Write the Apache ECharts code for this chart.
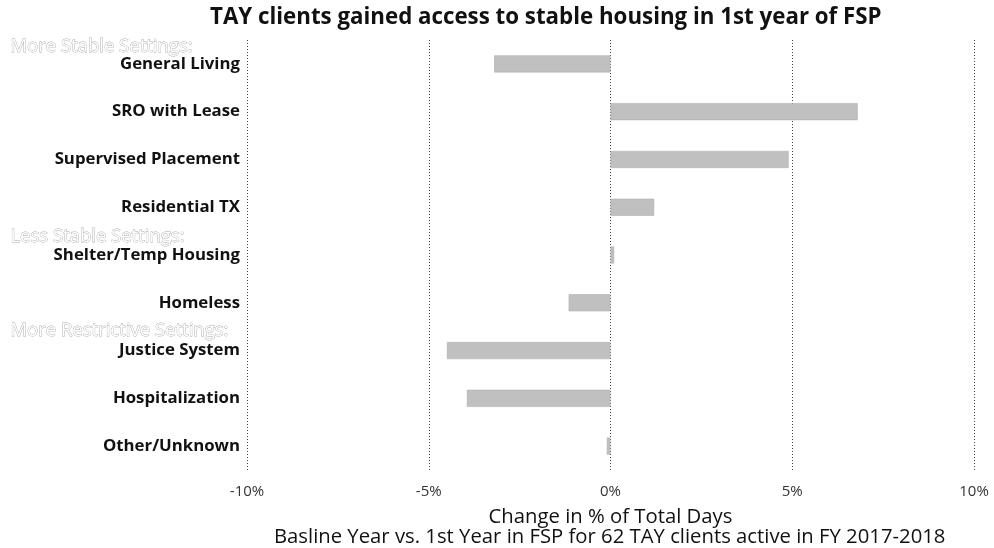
<!DOCTYPE html>
<html>
<head>
<meta charset="utf-8">
<title>TAY housing change</title>
<script src="https://cdn.jsdelivr.net/npm/echarts@6/dist/echarts.min.js"></script>
<style>
  html, body { margin: 0; padding: 0; background: #fff; }
  #main { width: 994px; height: 548px; }
</style>
</head>
<body>
<div id="main"></div>
<script>
// categories top to bottom
const settings = [
  'General Living', 'SRO with Lease', 'Supervised Placement', 'Residential TX',
  'Shelter/Temp Housing', 'Homeless', 'Justice System', 'Hospitalization', 'Other/Unknown'
];
// change in % of total days
const changePct = [-3.2, 6.8, 4.9, 1.2, 0.1, -1.15, -4.5, -3.95, -0.1];
const xTicks = [-10, -5, 0, 5, 10];

// group headings shown above some category labels
const groupNames = ['More Stable Settings:', 'Less Stable Settings:', 'More Restrictive Settings:'];
const groupTops = [47, 237, 331];

const font = '"Open Sans", "Noto Sans", sans-serif';
const chart = echarts.init(document.getElementById('main'));

chart.setOption({
  animation: false,
  title: {
    text: 'TAY clients gained access to stable housing in 1st year of FSP',
    left: 205,
    top: 2,
    textStyle: { fontFamily: font, fontSize: 22.3, fontWeight: 'bold', color: '#111' }
  },
  grid: { left: 247, right: 20, top: 40, bottom: 78 },
  xAxis: {
    type: 'value',
    min: xTicks[0],
    max: xTicks[xTicks.length - 1],
    interval: 5,
    name: 'Change in % of Total Days',
    nameLocation: 'middle',
    nameGap: 37,
    nameTextStyle: { fontFamily: font, fontSize: 20.3, fontWeight: 'normal', color: '#111' },
    axisLine: { show: false },
    axisTick: { show: false },
    axisLabel: { formatter: '{value}%', margin: 14, fontFamily: font, fontSize: 15, color: '#333' },
    splitLine: { show: true, lineStyle: { type: [1, 2], color: '#444', width: 1 } }
  },
  yAxis: {
    type: 'category',
    inverse: true,
    data: settings,
    axisLine: { show: false },
    axisTick: { show: false },
    axisLabel: { margin: 7, fontFamily: font, fontSize: 16.8, fontWeight: 'bold', color: '#111' }
  },
  series: [{
    type: 'bar',
    data: changePct,
    barWidth: 17,
    itemStyle: { color: '#c0c0c0', borderColor: '#a8a8a8', borderWidth: 0.5 }
  }],
  graphic: groupNames.map((t, i) => ({
    type: 'text',
    left: 10,
    top: groupTops[i] - 10,
    style: {
      text: t,
      fontFamily: font,
      fontSize: 18.5,
      fill: '#fff',
      stroke: '#a8a8a8',
      lineWidth: 0.8
    }
  })).concat([{
    type: 'text',
    left: 274,
    top: 527,
    style: {
      text: 'Basline Year vs. 1st Year in FSP for 62 TAY clients active in FY 2017-2018',
      fontFamily: font,
      fontSize: 20.3,
      fontWeight: 'normal',
      fill: '#111'
    }
  }])
});
</script>
</body>
</html>
